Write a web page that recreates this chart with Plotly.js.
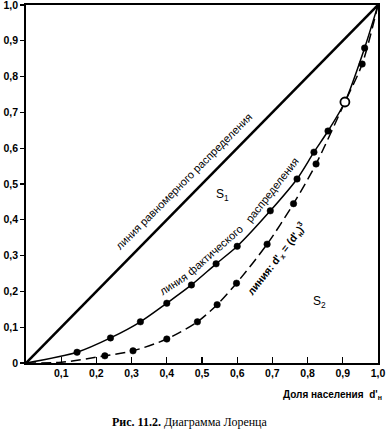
<!DOCTYPE html>
<html>
<head>
<meta charset="utf-8">
<script src="https://cdn.plot.ly/plotly-3.0.1.min.js"></script>
<style>html,body{margin:0;padding:0;background:#fff;}</style>
</head>
<body>
<div id="chart" style="width:386px;height:447px;"></div>
<script>
// Data
const equalX = [0, 1];
const equalY = [0, 1];

const actualX = [0, 0.145, 0.24, 0.325, 0.4, 0.47, 0.54, 0.6, 0.694, 0.77, 0.818, 0.858, 0.906, 0.962, 1.0];
const actualY = [0, 0.03, 0.07, 0.115, 0.167, 0.218, 0.277, 0.326, 0.425, 0.514, 0.589, 0.648, 0.729, 0.88, 1.0];
const actualMarked = [0, 1, 1, 1, 1, 1, 1, 1, 1, 1, 1, 1, 0, 1, 0];

const cubeX = [0, 0.1, 0.224, 0.304, 0.40, 0.487, 0.543, 0.598, 0.685, 0.76, 0.824, 0.906, 0.955, 1.0];
const cubeY = [0, 0.002, 0.02, 0.034, 0.067, 0.115, 0.163, 0.223, 0.332, 0.445, 0.556, 0.729, 0.835, 1.0];
const cubeMarked = [0, 0, 1, 1, 1, 1, 1, 1, 1, 1, 1, 0, 1, 0];

const crossX = [0.906];
const crossY = [0.729];

const tickVals = [0, 0.1, 0.2, 0.3, 0.4, 0.5, 0.6, 0.7, 0.8, 0.9, 1.0];
const yTickText = ['0', '0,1', '0,2', '0,3', '0,4', '0,5', '0,6', '0,7', '0,8', '0,9', '1,0'];
const xTickVals = [0.1, 0.2, 0.3, 0.4, 0.5, 0.6, 0.7, 0.8, 0.9, 1.0];
const xTickText = ['0,1', '0,2', '0,3', '0,4', '0,5', '0,6', '0,7', '0,8', '0,9', '1,0'];

const sans = 'Liberation Sans, Arial, sans-serif';
const pick = (arr, mask) => arr.filter((_, i) => mask[i]);

const dotMarker = {color: '#000000', size: 6.5, opacity: 1, symbol: 'circle', line: {color: '#000000', width: 0.5}};

const traces = [
  {x: equalX, y: equalY, mode: 'lines', line: {color: '#000', width: 2.6}},
  {x: actualX, y: actualY, mode: 'lines',
   line: {color: '#000', width: 1.5, shape: 'spline', smoothing: 0.8}},
  {x: cubeX, y: cubeY, mode: 'lines',
   line: {color: '#000', width: 1.5, dash: '10px,5px', shape: 'spline', smoothing: 0.8}},
  {x: pick(actualX, actualMarked), y: pick(actualY, actualMarked), mode: 'markers', marker: dotMarker},
  {x: pick(cubeX, cubeMarked), y: pick(cubeY, cubeMarked), mode: 'markers', marker: dotMarker},
  {x: crossX, y: crossY, mode: 'markers',
   marker: {color: '#fff', size: 9, line: {color: '#000', width: 1.8}}}
];

const txt = (text, x, y, angle, size, bold) => ({
  text: text, x: x, y: y, xref: 'x', yref: 'y', showarrow: false,
  textangle: angle, font: {family: sans, size: size, color: '#000', weight: bold ? 'bold' : 'normal'}
});

const layout = {
  width: 386, height: 447,
  margin: {l: 26, r: 8, t: 5, b: 84},
  paper_bgcolor: '#fff', plot_bgcolor: '#fff',
  showlegend: false,
  font: {family: sans, color: '#000'},
  xaxis: {
    range: [0, 1], showgrid: false, zeroline: false,
    showline: true, linecolor: '#000', linewidth: 1.6, mirror: true,
    ticks: 'inside', ticklen: 6, tickwidth: 1.2, tickcolor: '#000',
    tickvals: xTickVals, ticktext: xTickText, ticklabeloverflow: 'allow',
    tickfont: {family: sans, size: 10.5, weight: 'bold', color: '#000'}
  },
  yaxis: {
    range: [0, 1], showgrid: false, zeroline: false,
    showline: true, linecolor: '#000', linewidth: 1.8, mirror: true,
    ticks: 'outside', ticklen: 4, tickwidth: 1.2, tickcolor: '#000',
    tickvals: tickVals, ticktext: yTickText, ticklabeloverflow: 'allow',
    tickfont: {family: sans, size: 10.5, weight: 'bold', color: '#000'}
  },
  annotations: [
    txt('линия равномерного распределения', 0.449, 0.508, -45, 11, false),
    txt('линия', 0.418, 0.221, -33, 11, false),
    txt('фактического', 0.537, 0.316, -41, 11, false),
    txt('распределения', 0.699, 0.483, -52, 11, false),
    txt('S<sub>1</sub>', 0.557, 0.469, 0, 12, false),
    txt('S<sub>2</sub>', 0.835, 0.170, 0, 12, false),
    txt("линия: d'<sub>x</sub> = (d'<sub>н</sub>)<sup>3</sup>", 0.713, 0.29, -52, 10.5, true),
    {text: "Доля населения  d'<sub>н</sub>", xref: 'paper', yref: 'paper', x: 1.017, y: -0.089,
     xanchor: 'right', yanchor: 'middle', showarrow: false,
     font: {family: sans, size: 10, weight: 'bold', color: '#000'}},
    {text: '<b>Рис. 11.2.</b> Диаграмма Лоренца', xref: 'paper', yref: 'paper', x: 0.466, y: -0.165,
     xanchor: 'center', yanchor: 'middle', showarrow: false,
     font: {family: 'Liberation Serif, Times New Roman, serif', size: 12, color: '#000'}}
  ]
};

Plotly.newPlot('chart', traces, layout, {displayModeBar: false, staticPlot: true});
</script>
</body>
</html>
